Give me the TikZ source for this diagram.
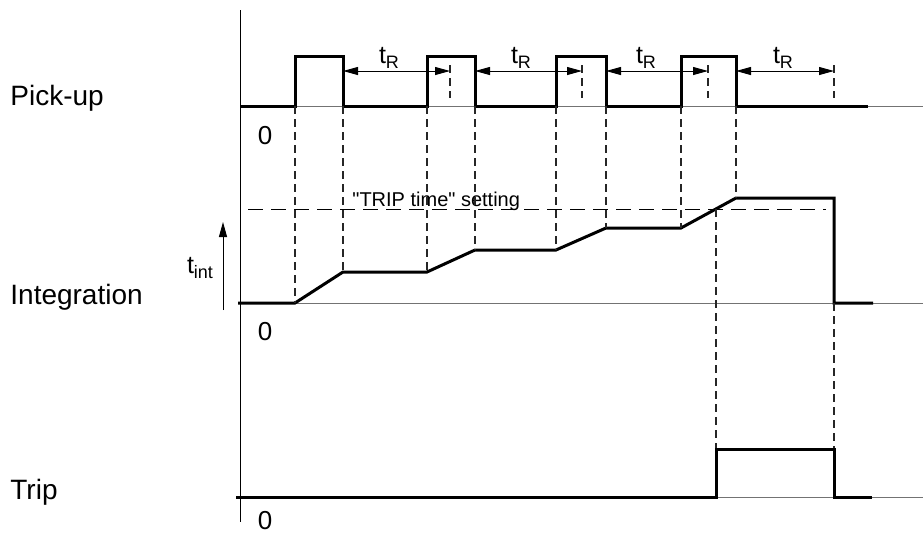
\documentclass[tikz,border=0pt]{standalone}
\usepackage{fontspec}
\setmainfont{Liberation Sans}[Ligatures=TeXOff]
\usetikzlibrary{arrows.meta}

\newcommand{\tsub}[1]{t\raisebox{-0.4ex}{\fontsize{9}{10}\selectfont #1}}

\begin{document}
\begin{tikzpicture}[
    x=0.5pt, y=-0.5pt,
    signal/.style={line width=1.5pt, line join=miter},
    zeroline/.style={line width=0.5pt, draw=black!55},
    axis/.style={line width=0.5pt},
    guide/.style={line width=0.6pt, draw=black!85, dash pattern=on 4pt off 2.5pt},
    setting/.style={line width=0.5pt, dash pattern=on 7.5pt off 4pt},
    dim/.style={line width=0.5pt, {Triangle[length=7.5pt,width=4pt]}-{Triangle[length=7.5pt,width=4pt]}},
    rowlabel/.style={font=\fontsize{14}{16}\selectfont, anchor=west, inner sep=0pt},
    zero/.style={font=\fontsize{13}{15}\selectfont, inner sep=0pt},
    tlabel/.style={font=\fontsize{12.5}{14}\selectfont, inner sep=0pt}
]
\useasboundingbox (0,0) rectangle (923,537);

% === Row labels ===
\node[rowlabel] (pickup) at (10,98) {Pick-up};
\node[rowlabel] (integ) at (10,297) {Integration};
\node[rowlabel] (trip) at (10,492) {Trip};

% === Axis and zero lines ===
\draw[axis] (240,10) -- (240,522);
\draw[zeroline] (240,106) -- (923,106);
\draw[zeroline] (238,303) -- (923,303);
\draw[zeroline] (236,497) -- (923,497);
\node[zero] (zeroA) at (265,136) {0};
\node[zero] (zeroB) at (265,332) {0};
\node[zero] (zeroC) at (265,521) {0};

% === Pick-up signal ===
\draw[signal] (240,106) -- (295,106) -- (295,56) -- (343,56) -- (343,106)
    -- (427,106) -- (427,56) -- (475,56) -- (475,106)
    -- (556,106) -- (556,56) -- (606,56) -- (606,106)
    -- (681,106) -- (681,56) -- (736,56) -- (736,106) -- (868,106);

% === Reset times ===
\draw[guide] (450,65) -- (450,98);
\draw[guide] (582,65) -- (582,98);
\draw[guide] (708,65) -- (708,98);
\draw[guide] (834,65) -- (834,98);
\draw[dim] (343,71) -- (450,71);
\draw[dim] (475,71) -- (582,71);
\draw[dim] (606,71) -- (708,71);
\draw[dim] (736,71) -- (834,71);
\node[tlabel] (tr1) at (389,58) {\tsub{R}};
\node[tlabel] (tr2) at (521,58) {\tsub{R}};
\node[tlabel] (tr3) at (646,58) {\tsub{R}};
\node[tlabel] (tr4) at (783,58) {\tsub{R}};

% === Integration ===
\draw[setting] (248,209) -- (826,209);
\node[anchor=base west, inner sep=0pt, font=\fontsize{10}{12}\selectfont] (setlbl) at (352,206) {"TRIP time" setting};
\draw[signal] (238,303) -- (295,303) -- (343,272) -- (427,272) -- (475,250)
    -- (556,250) -- (606,228) -- (681,228) -- (736,198) -- (834,198)
    -- (834,303) -- (873,303);
\draw[line width=0.5pt, -{Triangle[length=7.5pt,width=4pt]}] (223,310) -- (223,222);
\node[tlabel] (tint) at (200,268) {\tsub{int}};

% === Edge guides ===
\draw[guide] (295,106) -- (295,303);
\draw[guide] (343,106) -- (343,272);
\draw[guide] (427,106) -- (427,272);
\draw[guide] (475,106) -- (475,250);
\draw[guide] (556,106) -- (556,250);
\draw[guide] (606,106) -- (606,228);
\draw[guide] (681,106) -- (681,228);
\draw[guide] (736,106) -- (736,198);
\draw[guide] (716,209) -- (716,449);
\draw[guide] (834,303) -- (834,449);

% === Trip ===
\draw[signal] (236,497) -- (716,497) -- (716,449) -- (834,449) -- (834,497) -- (872,497);

\end{tikzpicture}
\end{document}
